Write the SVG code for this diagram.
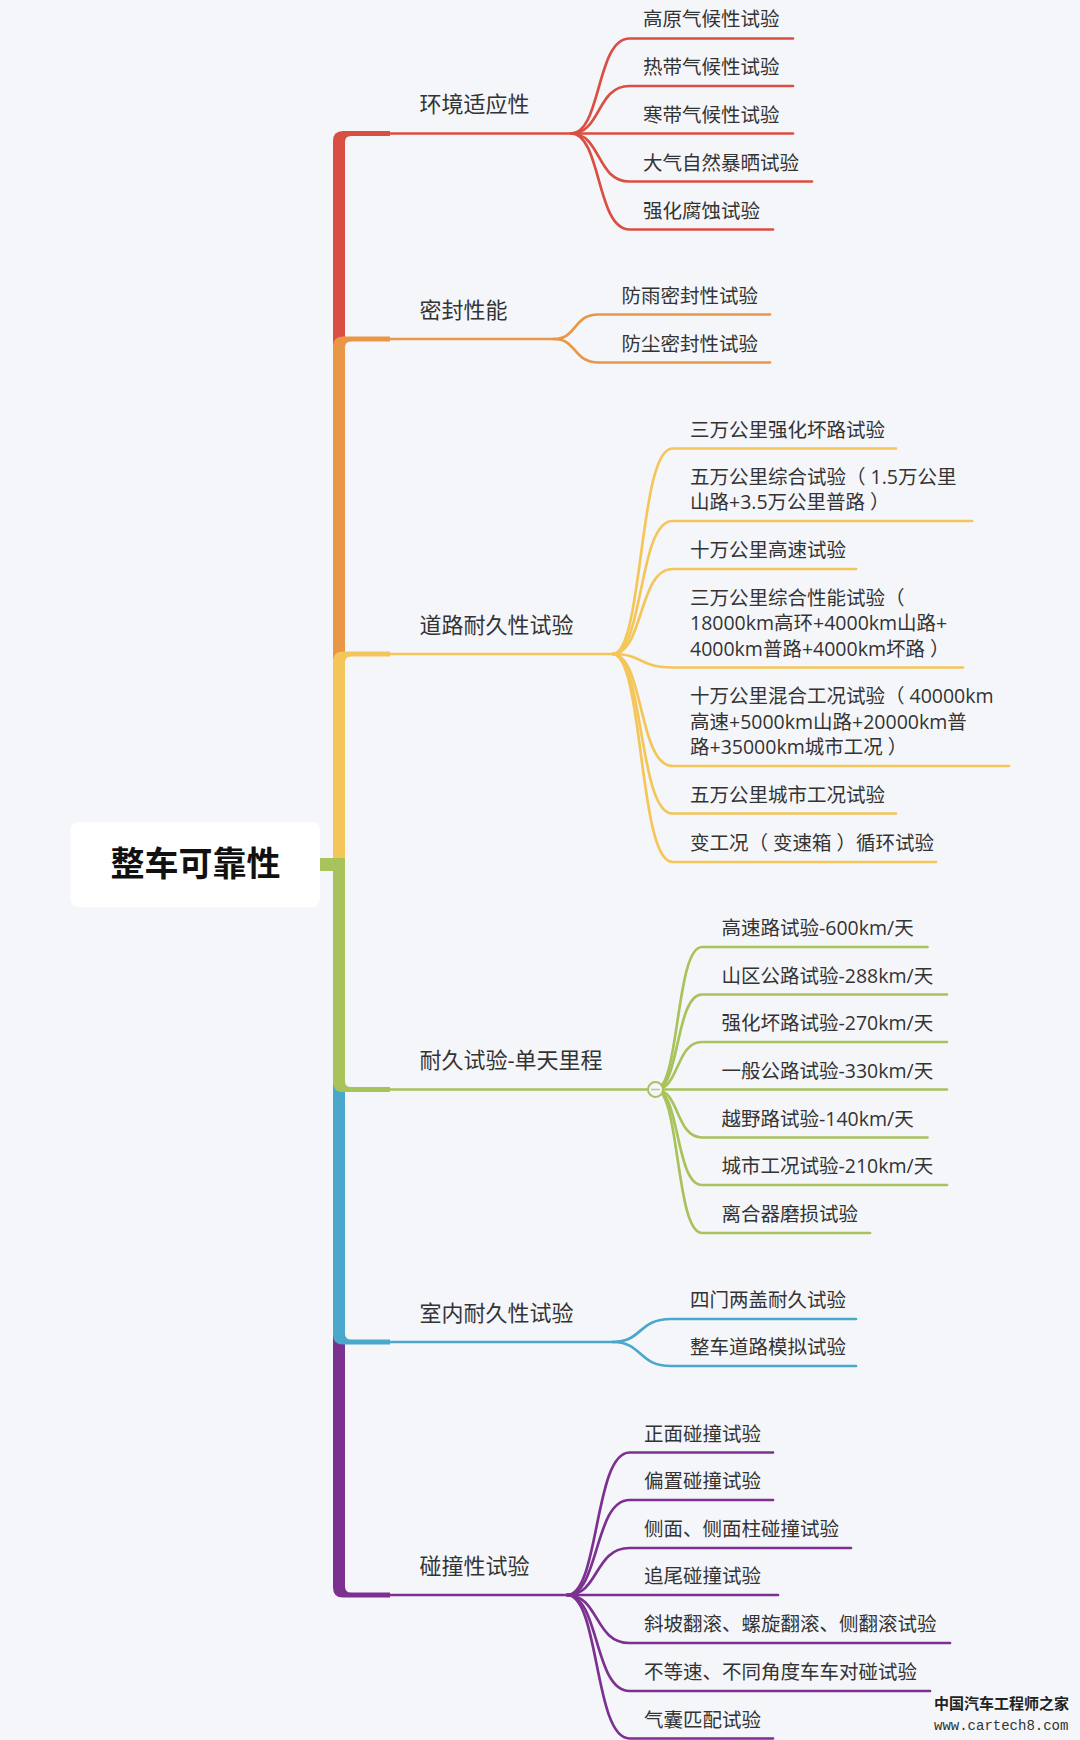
<svg xmlns="http://www.w3.org/2000/svg" width="1080" height="1740" viewBox="0 0 1080 1740">
<style>
.t1{font-family:"Open Sans","Noto Sans CJK SC",sans-serif;font-size:22px;fill:#333}
.t2{font-family:"Open Sans","Noto Sans CJK SC",sans-serif;font-size:19.5px;fill:#333}
.root{font-family:"Noto Sans CJK SC",sans-serif;font-size:34px;font-weight:700;fill:#111}
.ln{fill:none;stroke-width:2.7;stroke-linecap:round}
.red{stroke:#d94f43}.org{stroke:#e99746}.yel{stroke:#f4c65a}.grn{stroke:#a8c25c}.blu{stroke:#4aa8cc}.pur{stroke:#7c3191}
</style>
<rect x="0" y="0" width="1080" height="1740" fill="#f5f6fa"/>
<g id="connectors">
  <path d="M333 345 V141 Q333 131 343 131 H390 V136 H351 Q345 136 345 142 V345 Z" fill="#d94f43"/>
  <path d="M333 660 V346.5 Q333 336.5 343 336.5 H390 V341.5 H351 Q345 341.5 345 347.5 V660 Z" fill="#e99746"/>
  <path d="M333 858 V661.5 Q333 651.5 343 651.5 H390 V656.5 H351 Q345 656.5 345 662.5 V858 Z" fill="#f4c65a"/>
  <path d="M333 1336 V1587.5 Q333 1597.5 343 1597.5 H390 V1592.5 H351 Q345 1592.5 345 1586.5 V1336 Z" fill="#7c3191"/>
  <path d="M333 1083 V1334.5 Q333 1344.5 343 1344.5 H390 V1339.5 H351 Q345 1339.5 345 1333.5 V1083 Z" fill="#4aa8cc"/>
  <path d="M333 858 V1082 Q333 1092 343 1092 H390 V1087 H351 Q345 1087 345 1081 V858 Z" fill="#a8c25c"/>
  <rect x="318" y="858" width="21" height="13" fill="#a8c25c"/>

  <!-- red -->
  <path class="ln red" d="M388 133.5 H571"/>
  <path class="ln red" d="M571 133.5 C601.4 133.5 596.2 38.5 629.5 38.5 H793"/>
  <path class="ln red" d="M571 133.5 C601.4 133.5 596.2 86 629.5 86 H793"/>
  <path class="ln red" d="M571 133.5 H793"/>
  <path class="ln red" d="M571 133.5 C601.4 133.5 596.2 181.5 629.5 181.5 H812"/>
  <path class="ln red" d="M571 133.5 C601.4 133.5 596.2 229.5 629.5 229.5 H773"/>
  <!-- orange -->
  <path class="ln org" d="M388 339 H554"/>
  <path class="ln org" d="M554 339 C577.1 339 573.1 314.5 598.5 314.5 H770"/>
  <path class="ln org" d="M554 339 C577.1 339 573.1 362.5 598.5 362.5 H770"/>
  <!-- yellow -->
  <path class="ln yel" d="M388 654 H612.5"/>
  <path class="ln yel" d="M612.5 654 C643.7 654 638.3 448.5 672.5 448.5 H896"/>
  <path class="ln yel" d="M612.5 654 C643.7 654 638.3 521 672.5 521 H972"/>
  <path class="ln yel" d="M612.5 654 C643.7 654 638.3 569 672.5 569 H856"/>
  <path class="ln yel" d="M612.5 654 C643.7 654 638.3 667.5 672.5 667.5 H963"/>
  <path class="ln yel" d="M612.5 654 C643.7 654 638.3 766 672.5 766 H1009"/>
  <path class="ln yel" d="M612.5 654 C643.7 654 638.3 813.5 672.5 813.5 H896"/>
  <path class="ln yel" d="M612.5 654 C643.7 654 638.3 862 672.5 862 H936"/>
  <!-- green -->
  <path class="ln grn" d="M388 1089.5 H655.5"/>
  <path class="ln grn" d="M655.5 1089.5 C679.7 1089.5 675.5 947 702 947 H927.5"/>
  <path class="ln grn" d="M655.5 1089.5 C679.7 1089.5 675.5 994.5 702 994.5 H947"/>
  <path class="ln grn" d="M655.5 1089.5 C679.7 1089.5 675.5 1042 702 1042 H947"/>
  <path class="ln grn" d="M655.5 1089.5 H947"/>
  <path class="ln grn" d="M655.5 1089.5 C679.7 1089.5 675.5 1137.5 702 1137.5 H927.5"/>
  <path class="ln grn" d="M655.5 1089.5 C679.7 1089.5 675.5 1185 702 1185 H947"/>
  <path class="ln grn" d="M655.5 1089.5 C679.7 1089.5 675.5 1233 702 1233 H870"/>
  <circle cx="655.5" cy="1089.5" r="7.5" fill="#f5f6fa" stroke="#a8c25c" stroke-width="2"/>
  <path d="M651 1089.5 H660" stroke="#b9c99a" stroke-width="1.5"/>
  <!-- blue -->
  <path class="ln blu" d="M388 1342 H612.5"/>
  <path class="ln blu" d="M612.5 1342 C642.9 1342 637.7 1319 671 1319 H856"/>
  <path class="ln blu" d="M612.5 1342 C642.9 1342 637.7 1366 671 1366 H856"/>
  <!-- purple -->
  <path class="ln pur" d="M388 1595 H567"/>
  <path class="ln pur" d="M567 1595 C599.5 1595 593.9 1452.5 629.5 1452.5 H773"/>
  <path class="ln pur" d="M567 1595 C599.5 1595 593.9 1500 629.5 1500 H773"/>
  <path class="ln pur" d="M567 1595 C599.5 1595 593.9 1548 629.5 1548 H851"/>
  <path class="ln pur" d="M567 1595 H778"/>
  <path class="ln pur" d="M567 1595 C599.5 1595 593.9 1643 629.5 1643 H950"/>
  <path class="ln pur" d="M567 1595 C599.5 1595 593.9 1691 629.5 1691 H930"/>
  <path class="ln pur" d="M567 1595 C599.5 1595 593.9 1738.5 629.5 1738.5 H773"/>
</g>

<g id="root">
  <rect x="70.5" y="822" width="249.5" height="85" rx="8" fill="#ffffff"/>
  <text class="root" x="195.5" y="876" text-anchor="middle">整车可靠性</text>
</g>

<g id="b1"><text class="t1" x="419.5" y="112">环境适应性</text></g>
<g id="b1c1"><text class="t2" x="643" y="26">高原气候性试验</text></g>
<g id="b1c2"><text class="t2" x="643" y="74">热带气候性试验</text></g>
<g id="b1c3"><text class="t2" x="643" y="121.5">寒带气候性试验</text></g>
<g id="b1c4"><text class="t2" x="643" y="169.5">大气自然暴晒试验</text></g>
<g id="b1c5"><text class="t2" x="643" y="217.5">强化腐蚀试验</text></g>

<g id="b2"><text class="t1" x="419.5" y="317.5">密封性能</text></g>
<g id="b2c1"><text class="t2" x="621.5" y="302.5">防雨密封性试验</text></g>
<g id="b2c2"><text class="t2" x="621.5" y="350.5">防尘密封性试验</text></g>

<g id="b3"><text class="t1" x="419.5" y="632.5">道路耐久性试验</text></g>
<g id="b3c1"><text class="t2" x="690" y="436.5">三万公里强化坏路试验</text></g>
<g id="b3c2"><text class="t2" x="690" y="483.5">五万公里综合试验（<tspan dx="5">1.5万公里</tspan><tspan x="690" y="509">山路+3.5万公里普路</tspan><tspan dx="5">）</tspan></text></g>
<g id="b3c3"><text class="t2" x="690" y="557">十万公里高速试验</text></g>
<g id="b3c4"><text class="t2" x="690" y="604.5">三万公里综合性能试验（<tspan x="690" y="630">18000km高环+4000km山路+</tspan><tspan x="690" y="655.5">4000km普路+4000km坏路</tspan><tspan dx="5">）</tspan></text></g>
<g id="b3c5"><text class="t2" x="690" y="703">十万公里混合工况试验（<tspan dx="5">40000km</tspan><tspan x="690" y="728.5">高速+5000km山路+20000km普</tspan><tspan x="690" y="754">路+35000km城市工况</tspan><tspan dx="5">）</tspan></text></g>
<g id="b3c6"><text class="t2" x="690" y="801.5">五万公里城市工况试验</text></g>
<g id="b3c7"><text class="t2" x="690" y="850">变工况（<tspan dx="5">变速箱</tspan><tspan dx="5">）</tspan>循环试验</text></g>

<g id="b4"><text class="t1" x="419.5" y="1068">耐久试验-单天里程</text></g>
<g id="b4c1"><text class="t2" x="721.5" y="935">高速路试验-600km/天</text></g>
<g id="b4c2"><text class="t2" x="721.5" y="982.5">山区公路试验-288km/天</text></g>
<g id="b4c3"><text class="t2" x="721.5" y="1030">强化坏路试验-270km/天</text></g>
<g id="b4c4"><text class="t2" x="721.5" y="1077.5">一般公路试验-330km/天</text></g>
<g id="b4c5"><text class="t2" x="721.5" y="1125.5">越野路试验-140km/天</text></g>
<g id="b4c6"><text class="t2" x="721.5" y="1173">城市工况试验-210km/天</text></g>
<g id="b4c7"><text class="t2" x="721.5" y="1221">离合器磨损试验</text></g>

<g id="b5"><text class="t1" x="419.5" y="1320.5">室内耐久性试验</text></g>
<g id="b5c1"><text class="t2" x="690" y="1307">四门两盖耐久试验</text></g>
<g id="b5c2"><text class="t2" x="690" y="1354">整车道路模拟试验</text></g>

<g id="b6"><text class="t1" x="419.5" y="1573.5">碰撞性试验</text></g>
<g id="b6c1"><text class="t2" x="644" y="1440.5">正面碰撞试验</text></g>
<g id="b6c2"><text class="t2" x="644" y="1488">偏置碰撞试验</text></g>
<g id="b6c3"><text class="t2" x="644" y="1536">侧面、侧面柱碰撞试验</text></g>
<g id="b6c4"><text class="t2" x="644" y="1583">追尾碰撞试验</text></g>
<g id="b6c5"><text class="t2" x="644" y="1631">斜坡翻滚、螺旋翻滚、侧翻滚试验</text></g>
<g id="b6c6"><text class="t2" x="644" y="1679">不等速、不同角度车车对碰试验</text></g>
<g id="b6c7"><text class="t2" x="644" y="1726.5">气囊匹配试验</text></g>

<g id="watermark">
  <text x="934" y="1708.5" font-family="Noto Sans CJK SC, sans-serif" font-size="15" font-weight="700" fill="#222">中国汽车工程师之家</text>
  <text x="934" y="1730" font-family="Liberation Mono, monospace" font-size="14" fill="#333">www.cartech8.com</text>
</g>
</svg>
